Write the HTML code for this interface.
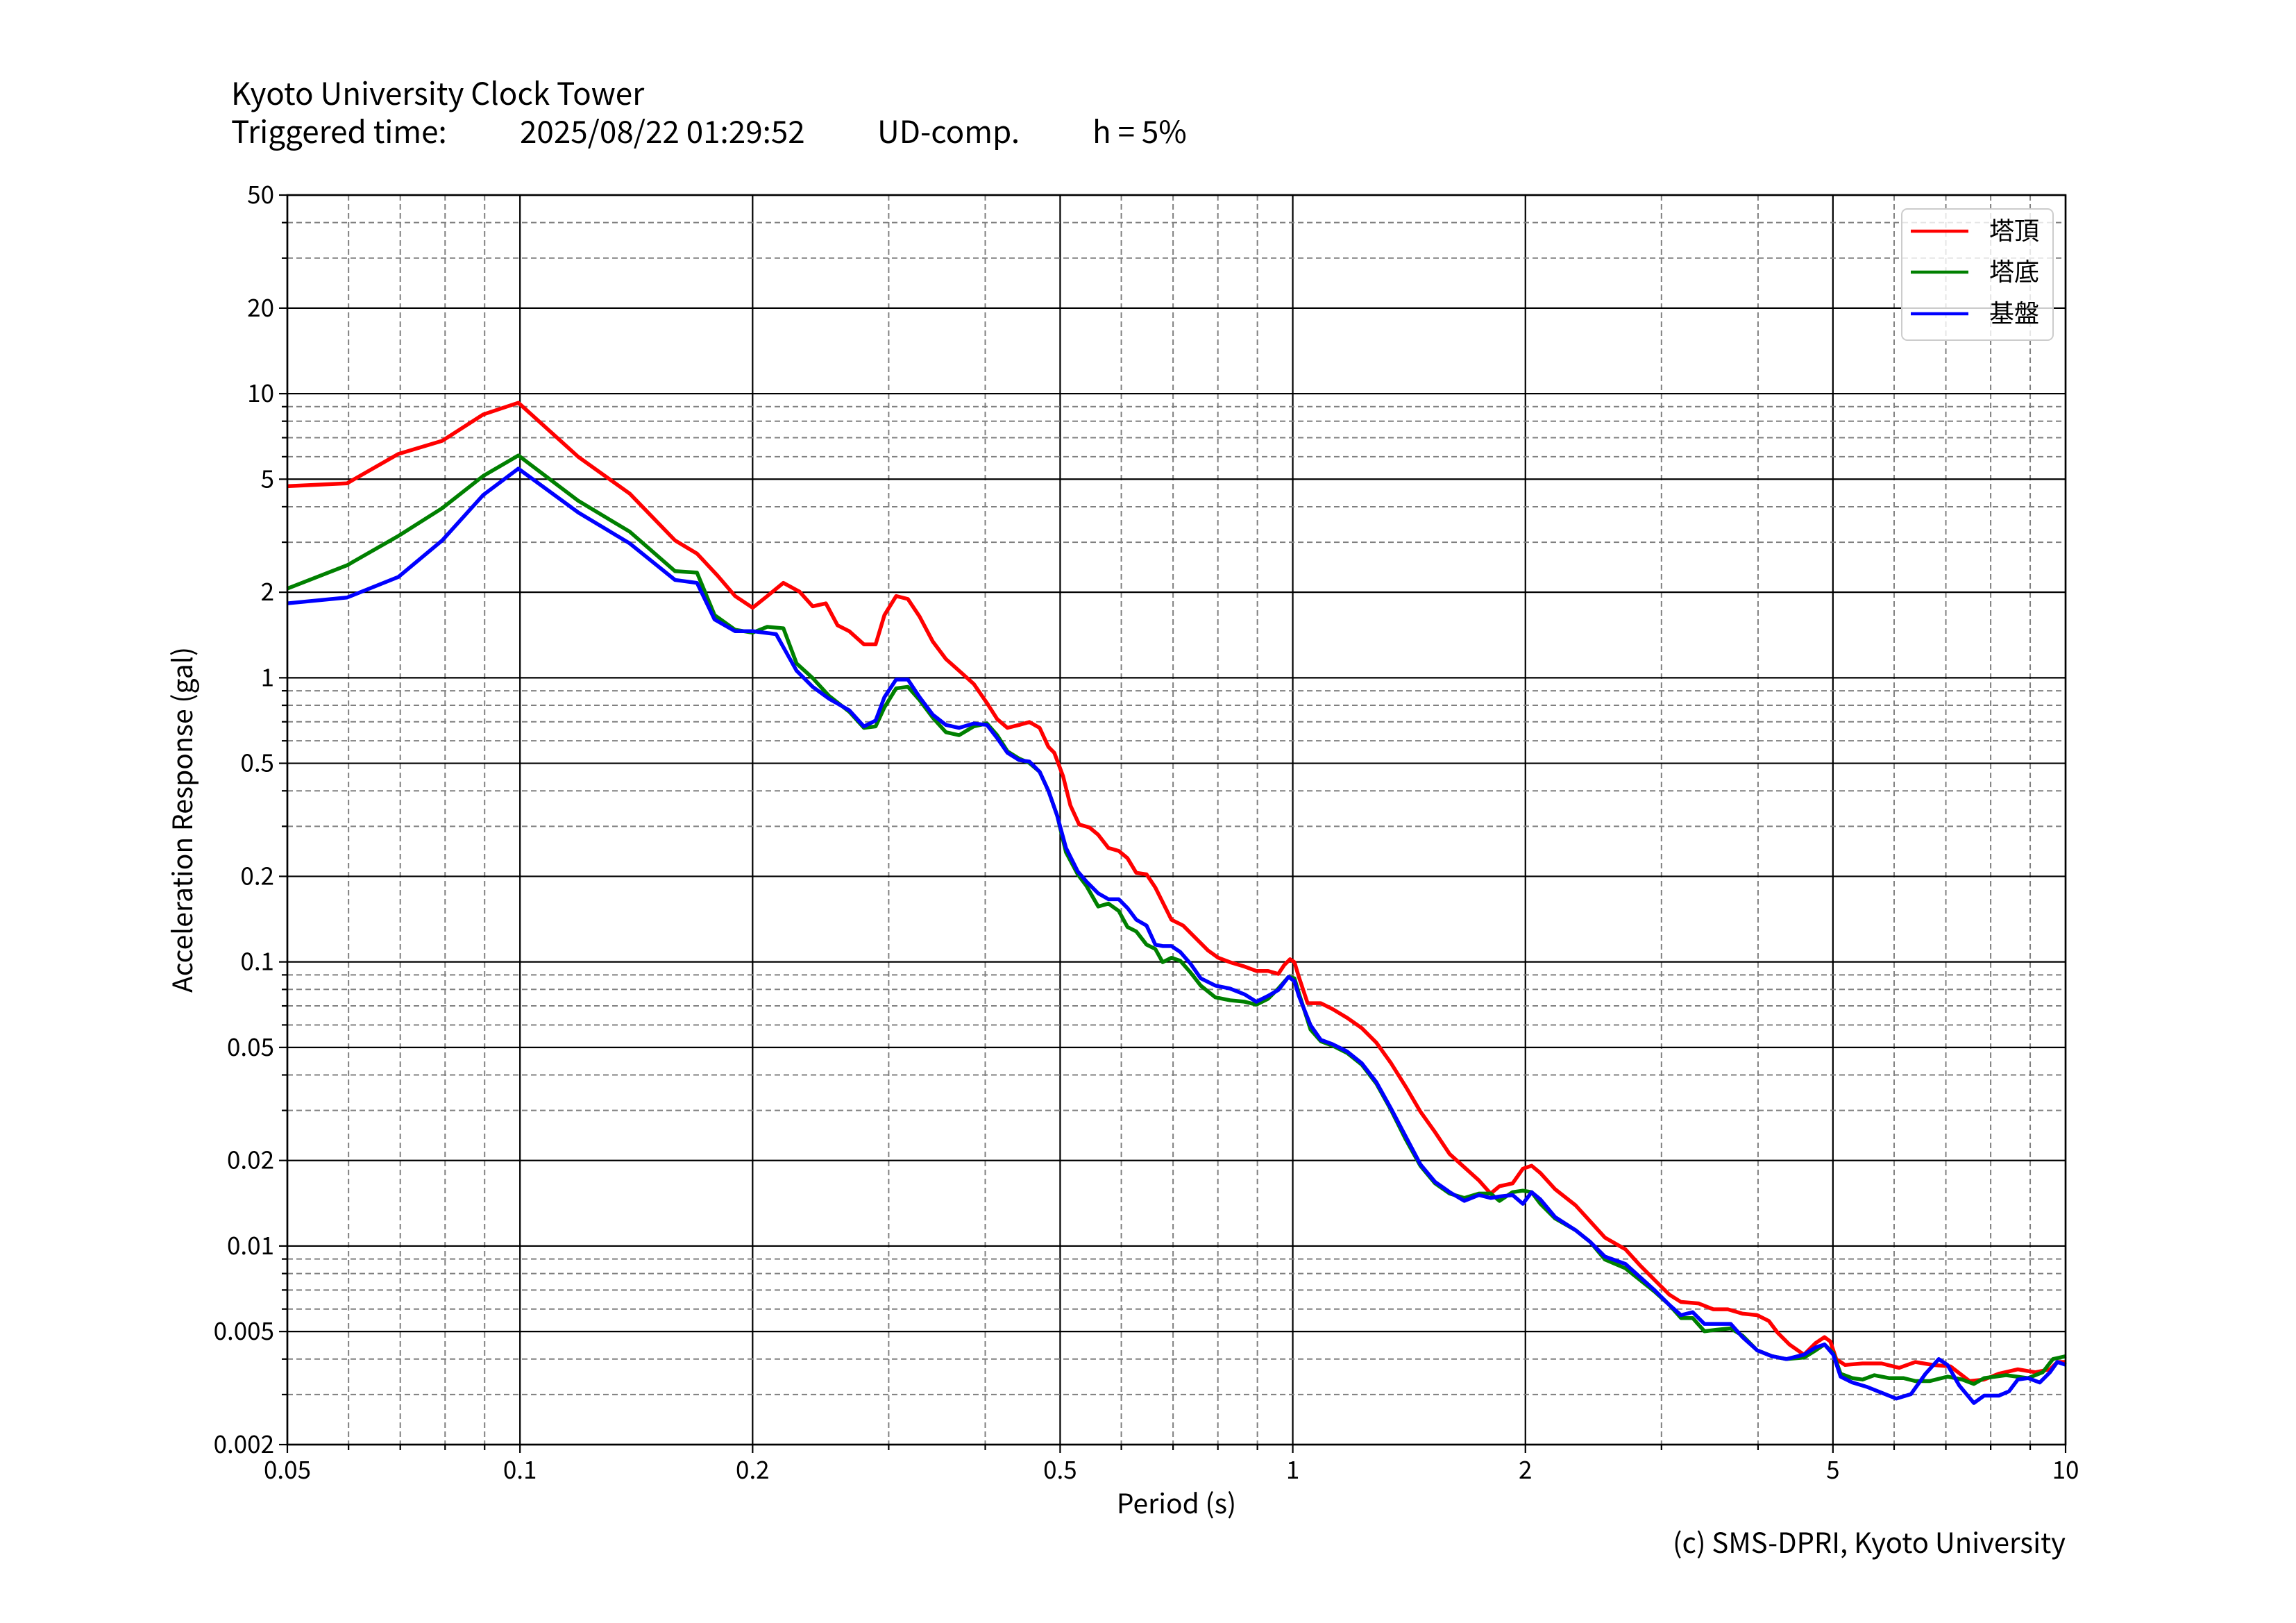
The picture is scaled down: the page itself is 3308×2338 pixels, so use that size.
<!DOCTYPE html>
<html><head><meta charset="utf-8"><style>
html,body{margin:0;padding:0;background:#fff;}
svg{display:block;}
text{font-family:"Noto Sans CJK JP","Liberation Sans",sans-serif;fill:#000;}
</style></head><body>
<svg id="s" width="3308" height="2338" xmlns="http://www.w3.org/2000/svg">
<rect width="3308" height="2338" fill="#fff"/>
<g id="grid"></g>
<g id="curves" fill="none" stroke-width="2.6" stroke-linejoin="round" transform="scale(2.1097)">
<polyline stroke="#ff0000" points="196,332 237,330 272,310 302,301 330,283 354,275 395,312 430,337 461,369 476,378 490,393 502,407 514,415 524,407 535,398 546,404 555,414 564,412 572,427 580,431 590,440 598,440 604,420 612,407 620,409 628,421 637,438 646,450 655,458 665,467 674,480 681,491 688,497 696,495 703,493 710,497 716,510 720,514 726,530 731,550 737,563 744,565 750,570 757,579 764,581 770,586 776,596 783,597 789,606 794,616 800,628 808,632 818,642 825,649 832,654 840,657 850,660 858,663 866,663 873,665 877,659 881,655 884,657 887,667 893,685 902,685 910,689 920,695 930,702 940,712 950,726 960,742 970,759 980,773 990,788 1000,797 1010,806 1018,815 1024,810 1033,808 1040,798 1046,796 1052,801 1062,812 1076,823 1086,834 1096,845 1110,853 1120,864 1130,874 1140,884 1148,889 1160,890 1170,894 1180,894 1190,897 1200,898 1208,902 1214,910 1222,918 1232,925 1240,917 1246,913 1250,916 1254,928 1260,932 1272,931 1285,931 1297,934 1308,930 1320,932 1332,933 1345,943 1355,942 1365,938 1378,935 1390,937 1400,935 1405,930 1411,930"/>
<polyline stroke="#008000" points="196,402 237,386 272,366 302,347 330,325 354,311 395,342 430,363 461,390 476,391 488,420 502,430 514,432 524,428 535,429 544,453 555,463 566,475 580,486 590,497 598,496 604,483 612,470 620,469 628,478 637,490 646,500 655,502 665,496 674,494 681,502 688,513 696,518 703,521 710,527 716,540 722,557 728,582 736,597 742,605 750,619 757,617 764,622 770,633 776,636 783,645 789,648 794,657 800,654 806,656 813,664 820,673 830,681 840,683 850,684 858,686 866,682 873,675 880,667 884,668 887,678 895,703 902,711 910,714 920,719 930,727 940,740 950,758 960,778 970,796 980,808 990,815 1000,818 1010,815 1018,815 1024,820 1033,814 1040,813 1046,814 1052,822 1062,832 1076,840 1086,848 1096,860 1110,866 1120,874 1130,882 1140,891 1148,900 1156,900 1164,909 1172,908 1182,907 1190,912 1200,922 1210,926 1220,928 1232,927 1240,922 1246,918 1252,924 1257,938 1265,941 1272,942 1280,939 1290,941 1300,941 1308,943 1318,943 1330,940 1340,942 1348,945 1355,941 1370,939 1385,941 1395,937 1402,928 1411,926"/>
<polyline stroke="#0000ff" points="196,412 237,408 272,394 302,369 330,338 354,320 395,350 430,371 461,396 476,398 488,423 502,431 514,431 530,433 544,458 555,469 566,477 580,485 590,496 598,492 604,476 612,464 620,464 628,476 637,488 646,495 655,497 665,494 674,495 681,504 688,514 696,519 703,520 710,527 716,540 722,557 728,579 736,595 742,602 750,610 757,614 764,614 770,620 776,628 783,632 789,645 794,646 800,646 806,650 813,658 820,668 830,673 840,675 850,679 858,684 866,680 873,676 880,667 884,670 887,680 895,700 902,710 910,713 920,718 930,726 940,739 950,757 960,776 970,795 980,807 990,814 1000,820 1010,816 1018,818 1024,817 1033,816 1040,822 1046,814 1052,819 1062,831 1076,840 1086,848 1096,858 1110,863 1120,872 1130,881 1140,891 1148,898 1156,896 1164,904 1172,904 1182,904 1190,913 1200,922 1210,926 1220,928 1232,925 1240,920 1246,918 1252,925 1257,940 1265,944 1275,947 1285,951 1295,955 1305,952 1315,938 1324,928 1330,932 1338,946 1348,958 1355,953 1365,953 1372,950 1378,942 1385,941 1393,944 1400,937 1405,930 1411,932"/>
</g>
<rect x="414" y="281" width="2562" height="1800" fill="none" stroke="#000" stroke-width="2.6"/>
<g id="labels"></g>
<rect x="2740" y="301" width="218" height="189" rx="8" fill="#fff" fill-opacity="0.8" stroke="#ccc" stroke-width="2"/>
<line x1="2753" y1="333" x2="2836" y2="333" stroke="#ff0000" stroke-width="4.5"/>
<line x1="2753" y1="392" x2="2836" y2="392" stroke="#008000" stroke-width="4.5"/>
<line x1="2753" y1="452" x2="2836" y2="452" stroke="#0000ff" stroke-width="4.5"/>
<text x="2866" y="345" font-size="36">塔頂</text>
<text x="2866" y="404" font-size="36">塔底</text>
<text x="2866" y="464" font-size="36">基盤</text>
<text x="333" y="151" font-size="44">Kyoto University Clock Tower</text>
<text x="333" y="206" font-size="44">Triggered time:</text>
<text x="749" y="206" font-size="44">2025/08/22 01:29:52</text>
<text x="1264" y="206" font-size="44">UD-comp.</text>
<text x="1574" y="206" font-size="44">h = 5%</text>
<text x="1695" y="2180" font-size="39" text-anchor="middle">Period (s)</text>
<text transform="translate(277,1181) rotate(-90)" font-size="39" text-anchor="middle">Acceleration Response (gal)</text>
<text x="2976" y="2237" font-size="40" text-anchor="end">(c) SMS-DPRI, Kyoto University</text>
</svg>
<script>
(function(){
var L=414,R=2976,T=281,B=2081,NS="http://www.w3.org/2000/svg";
function X(t){return L+Math.log10(t/0.05)/Math.log10(200)*(R-L);}
function Y(v){return T+Math.log10(50/v)/Math.log10(25000)*(B-T);}
var g=document.getElementById('grid'),lab=document.getElementById('labels');
function ln(x1,y1,x2,y2,maj,parent){var e=document.createElementNS(NS,'line');e.setAttribute('x1',x1);e.setAttribute('y1',y1);e.setAttribute('x2',x2);e.setAttribute('y2',y2);
 if(maj){e.setAttribute('stroke','#000');e.setAttribute('stroke-width','2.2');}else{e.setAttribute('stroke','#808080');e.setAttribute('stroke-width','2');e.setAttribute('stroke-dasharray','8,5');}
 (parent||g).appendChild(e);}
function tx(x,y,s,anc){var e=document.createElementNS(NS,'text');e.setAttribute('x',x);e.setAttribute('y',y);e.setAttribute('font-size','35');e.setAttribute('text-anchor',anc);e.textContent=s;lab.appendChild(e);}
var xmaj=[0.05,0.1,0.2,0.5,1,2,5,10],xl=['0.05','0.1','0.2','0.5','1','2','5','10'];
var xmin=[0.06,0.07,0.08,0.09,0.3,0.4,0.6,0.7,0.8,0.9,3,4,6,7,8,9];
xmin.forEach(function(t){var x=X(t);ln(x,T,x,B,false);ln(x,B,x,B+8,true,lab);});
xmaj.forEach(function(t,i){var x=X(t);ln(x,T,x,B,true);ln(x,B,x,B+12,true,lab);tx(x,2130,xl[i],'middle');});
var ymaj=[50,20,10,5,2,1,0.5,0.2,0.1,0.05,0.02,0.01,0.005,0.002];
var yl=['50','20','10','5','2','1','0.5','0.2','0.1','0.05','0.02','0.01','0.005','0.002'];
var ymin=[];[0.001,0.01,0.1,1,10].forEach(function(d){[3,4,6,7,8,9].forEach(function(m){var v=+(d*m).toPrecision(3);if(v>0.002&&v<50)ymin.push(v);});});
ymin.forEach(function(v){var y=Y(v);ln(L,y,R,y,false);ln(L-8,y,L,y,true,lab);});
ymaj.forEach(function(v,i){var y=Y(v);ln(L,y,R,y,true);ln(L-12,y,L,y,true,lab);tx(395,y+12,yl[i],'end');});
})();
</script>
</body></html>
